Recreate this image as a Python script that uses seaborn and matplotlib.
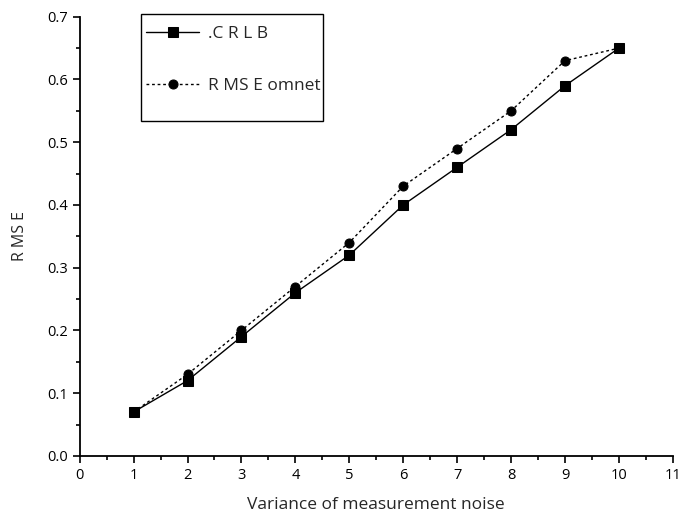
import pandas as pd
import seaborn as sns
import matplotlib.pyplot as plt
from matplotlib.patches import Rectangle
from matplotlib.ticker import MultipleLocator

variance = [1, 2, 3, 4, 5, 6, 7, 8, 9, 10]
crlb = [0.07, 0.12, 0.19, 0.26, 0.32, 0.40, 0.46, 0.52, 0.59, 0.65]
rmse_omnet = [0.07, 0.13, 0.20, 0.27, 0.34, 0.43, 0.49, 0.55, 0.63, 0.65]
series_names = [".C R L B", "R MS E omnet"]

df = pd.DataFrame({
    "variance": variance * 2,
    "value": crlb + rmse_omnet,
    "series": [series_names[0]] * len(variance) + [series_names[1]] * len(variance),
})

sns.set_style("ticks")
plt.rcParams['font.family'] = ['Open Sans', 'DejaVu Sans']

fig = plt.figure(figsize=(6.81, 5.24), dpi=100)
ax = fig.add_axes([0.117, 0.130, 0.871, 0.838])

sns.lineplot(data=df, x="variance", y="value", hue="series", style="series",
             palette=["black", "black"], markers=["s", "o"],
             dashes=[(None, None), (2, 2)], markersize=6.5, linewidth=1,
             markeredgecolor="black", ax=ax)

ax.set_xlim(0, 11)
ax.set_ylim(0, 0.7)
ax.xaxis.set_major_locator(MultipleLocator(1))
ax.xaxis.set_minor_locator(MultipleLocator(0.5))
ax.yaxis.set_major_locator(MultipleLocator(0.1))
ax.yaxis.set_minor_locator(MultipleLocator(0.05))
ax.yaxis.set_major_formatter(plt.FormatStrFormatter('%.1f'))
ax.tick_params(which='major', direction='out', length=5, width=1.2, colors='black', labelsize=10.5)
ax.tick_params(which='minor', direction='out', length=3, width=1.2, colors='black')
for s in ["left", "bottom"]:
    ax.spines[s].set_linewidth(1.3)
    ax.spines[s].set_color("black")
sns.despine(ax=ax)

ax.set_xlabel("Variance of measurement noise", fontsize=12.5, labelpad=10)
ax.set_ylabel("R MS E", fontsize=11.5, labelpad=14)

# legend without its own frame; box drawn separately (taller than the entries)
leg = ax.legend(loc="upper left", bbox_to_anchor=(143 / 681, 1 - 22 / 524),
                bbox_transform=fig.transFigure, frameon=False,
                fontsize=12.5, handlelength=3.0, handletextpad=0.55,
                labelspacing=2.1, borderpad=0.2, borderaxespad=0)
fig.patches.append(Rectangle((141 / 681, 1 - 121 / 524), 182 / 681, 107 / 524,
                             transform=fig.transFigure, fill=False,
                             edgecolor="black", linewidth=1, zorder=5))

fig.savefig("out.png", dpi=100)
